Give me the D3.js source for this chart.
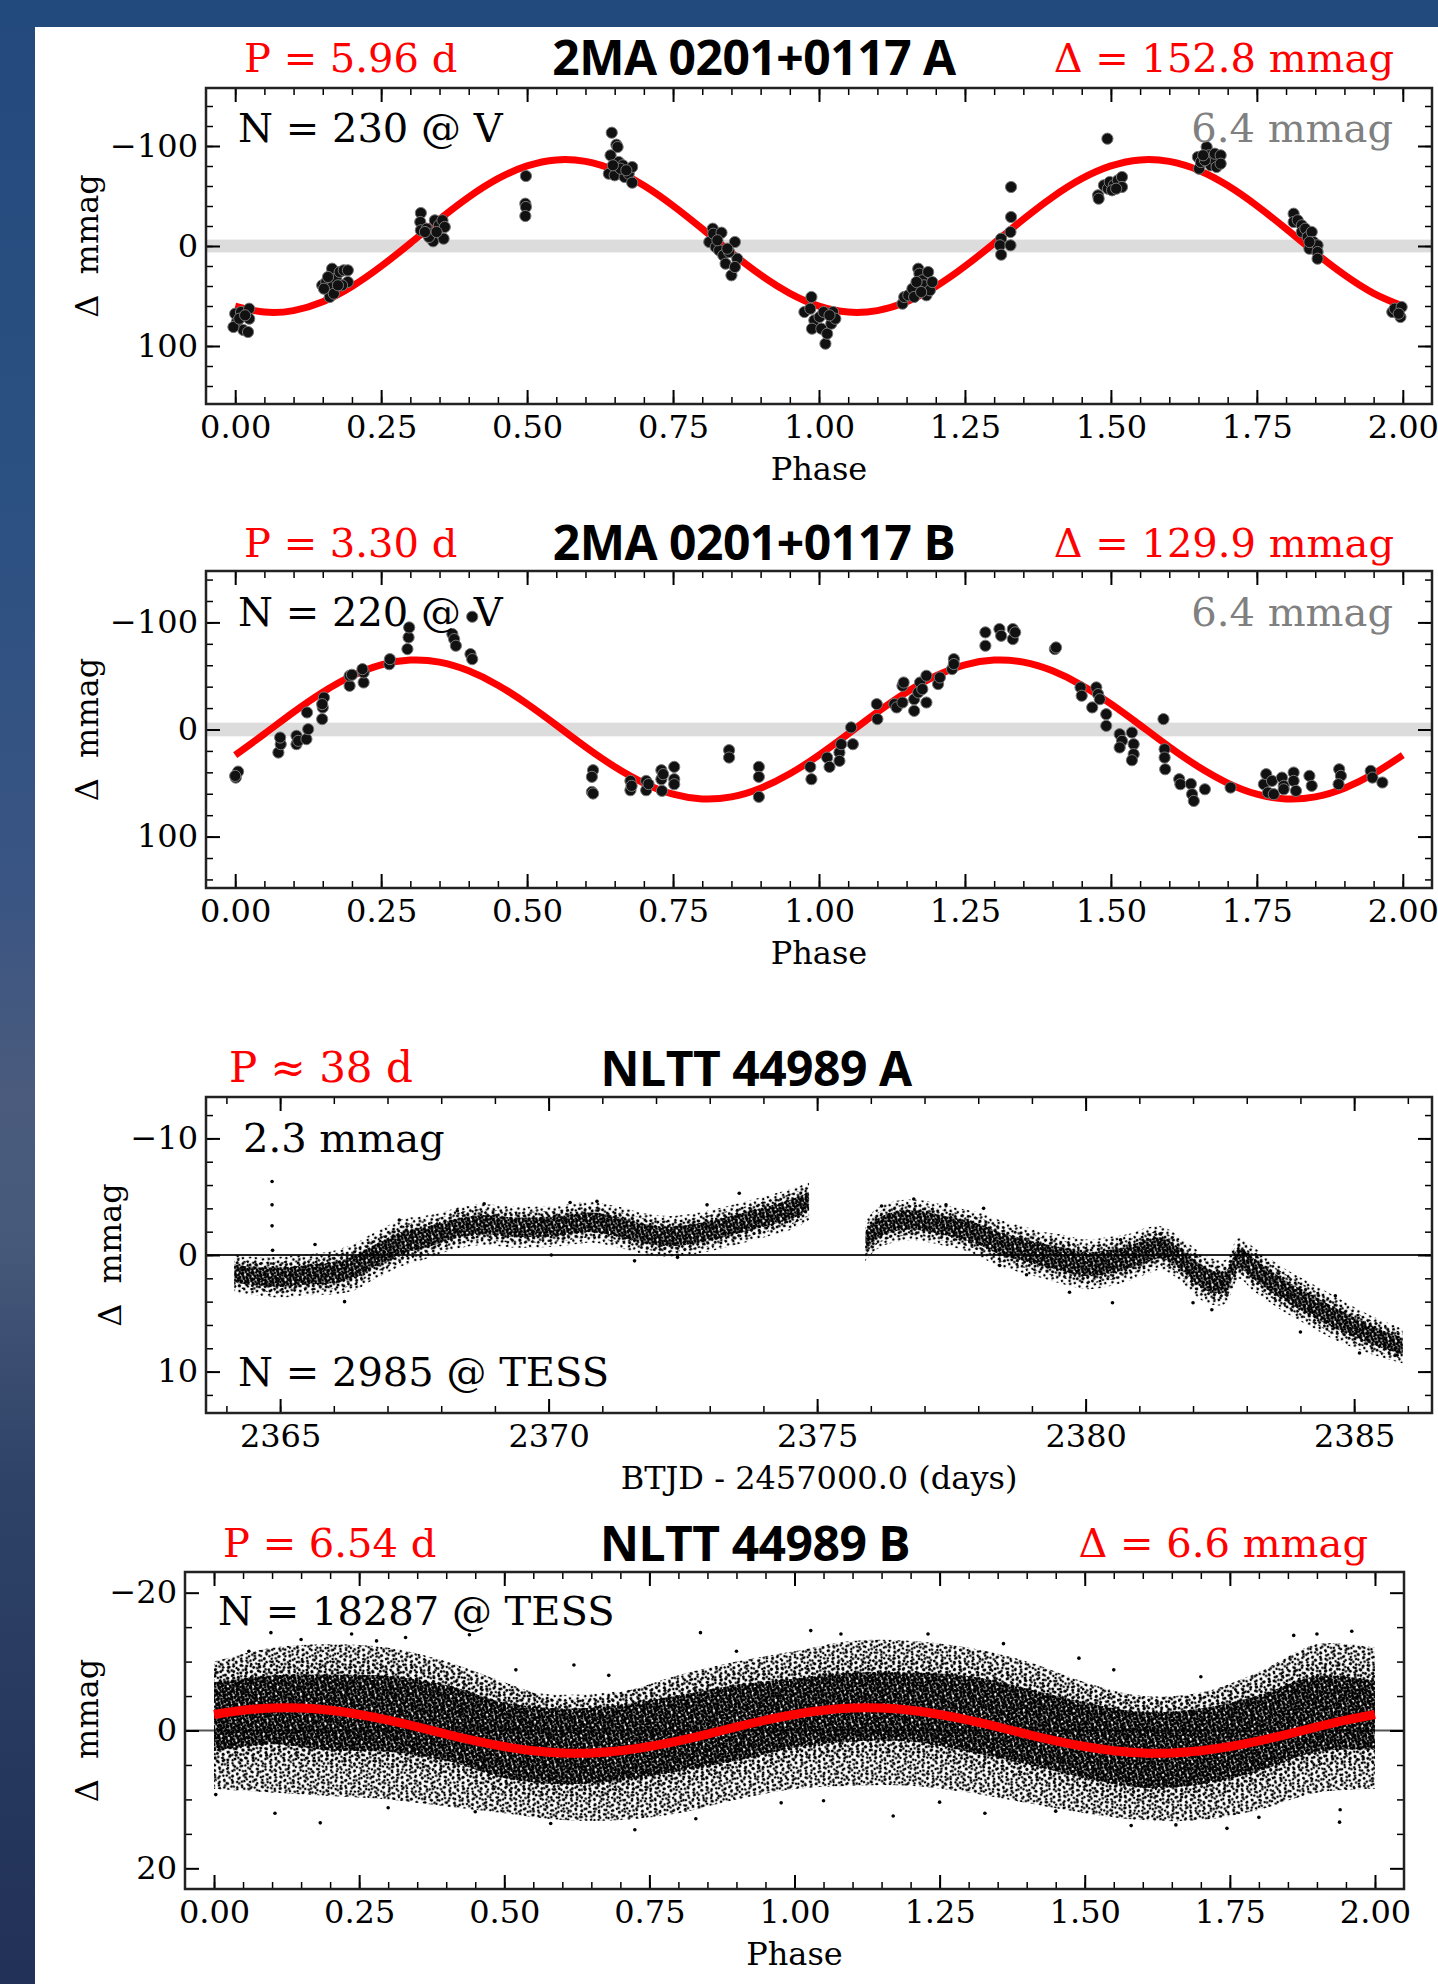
<!DOCTYPE html>
<html><head><meta charset="utf-8">
<script src="https://cdn.jsdelivr.net/npm/d3@7"></script>
<style>html,body{margin:0;padding:0;background:#fff;}svg{display:block;}</style>
</head><body>
<svg id="c" width="1438" height="1984"></svg>
<script>
// ---------------- DATA ----------------
const fitPhase = [0,0.05,0.1,0.15,0.2,0.25,0.3,0.35,0.4,0.45,0.5,0.55,0.6,0.65,0.7,0.75,0.8,0.85,0.9,0.95,
                  1,1.05,1.1,1.15,1.2,1.25,1.3,1.35,1.4,1.45,1.5,1.55,1.6,1.65,1.7,1.75,1.8,1.85,1.9,1.95,2];
const phaseMajor = [0,0.25,0.5,0.75,1,1.25,1.5,1.75,2];
const btjdMajor = [2365,2370,2375,2380,2385];

// Panel 1: 2MA 0201+0117 A
const p1Points = [
[0.000,67.7],[0.003,76],[0.010,66],[0.014,84],[0.022,86],[0.024,62.7],[0.024,72.7],[-0.003,81],[0.007,72.7],[0.017,69.3],
[0.149,39.3],[0.156,36],[0.166,22.7],[0.166,41],[0.173,32.7],[0.179,26],[0.186,24.3],[0.193,24.3],[0.193,36],[0.162,51],[0.169,47.7],[0.183,39.3],[0.176,39.3],[0.159,31],[0.152,42.7],
[0.318,-33],[0.317,-24],[0.318,-15.7],[0.328,-17.3],[0.335,-12.3],[0.339,-4.7],[0.342,-25.7],[0.349,-20.7],[0.355,-25.7],[0.359,-19],[0.357,-7.3],[0.332,-9],[0.325,-14],[0.345,-14],
[0.498,-70],[0.497,-42.3],[0.498,-39],[0.497,-30],
[0.645,-113.3],[0.653,-101.3],[0.655,-99],[0.643,-90.7],[0.640,-72.3],[0.650,-70.7],[0.657,-84],[0.664,-80.7],[0.667,-69],[0.674,-72.3],[0.680,-79],[0.680,-63.3],[0.660,-77.3],[0.647,-80.7],[0.670,-75.7],
[0.818,-17.3],[0.812,-4],[0.819,-12.3],[0.833,-13.3],[0.823,1],[0.829,4.3],[0.836,9.3],[0.840,17.7],[0.850,29.3],[0.856,-4],[0.860,12.7],[0.856,21],[0.846,6],[0.826,-5.7],[0.843,2.7],
[0.975,66],[0.987,51],[0.985,62.7],[0.992,74.3],[0.988,82.7],[1.001,71],[1.004,82.7],[1.011,97.7],[1.014,87.7],[1.021,77.7],[1.024,66],[1.028,72.7],[1.008,66],[1.018,69.3],
[1.143,57.7],[1.146,51],[1.153,49.3],[1.160,42.7],[1.163,51],[1.170,22.7],[1.172,27.7],[1.177,34.3],[1.180,39.3],[1.184,49.3],[1.187,26],[1.190,44.3],[1.194,36],[1.167,36],[1.175,46],
[1.312,-7.3],[1.310,-0.7],[1.312,8.7],[1.328,-14],[1.328,-0.7],[1.329,-29],[1.329,-59],
[1.494,-107.3],[1.478,-50.7],[1.479,-47.3],[1.488,-60.7],[1.495,-57.3],[1.498,-64],[1.505,-60.7],[1.512,-65.7],[1.519,-69],[1.519,-59],[1.502,-55.7],[1.509,-57.3],
[1.649,-89],[1.651,-77.3],[1.654,-84],[1.664,-99],[1.668,-90.7],[1.671,-80.7],[1.674,-87.3],[1.678,-92.3],[1.681,-79],[1.688,-90.7],[1.688,-82.3],[1.661,-85.7],[1.658,-90.7],
[1.813,-32.3],[1.813,-24],[1.820,-25.7],[1.827,-20.7],[1.827,-14],[1.833,-17.3],[1.837,-9],[1.840,2.7],[1.844,-14],[1.847,-4],[1.854,-0.7],[1.854,6],[1.854,12.7],[1.840,-4],
[1.982,66],[1.986,62.7],[1.996,71],[1.998,61],[1.993,67.7]
];
const p1Fit = [60.1,66.1,64.6,55.8,40.5,20.3,-2.8,-26.7,-48.9,-67.3,-80.1,-86.1,-84.6,-75.8,-60.5,-40.3,-17.2,6.7,28.9,47.3,
               60.1,66.1,64.6,55.8,40.5,20.3,-2.8,-26.7,-48.9,-67.3,-80.1,-86.1,-84.6,-75.8,-60.5,-40.3,-17.2,6.7,28.9,47.3,60.1];

// Panel 2: 2MA 0201+0117 B
const p2Points = [
[0.001,44.9],[0.005,39.3],[0.000,43.3],
[0.074,21.5],[0.078,13.7],[0.077,7.5],
[0.105,5.9],[0.105,13.7],[0.108,10.6],
[0.122,9.0],[0.125,-0.3],[0.123,-15.9],
[0.149,-9.7],[0.150,-20.6],[0.152,-29.9],[0.149,-23.7],
[0.196,-40.8],[0.196,-50.2],[0.200,-51.1],[0.220,-43.9],[0.220,-53.3],[0.218,-56.4],
[0.264,-61.0],[0.265,-65.7],
[0.295,-75.1],[0.297,-86.0],[0.298,-95.3],
[0.406,-105.3],
[0.372,-89.1],[0.375,-84.4],[0.378,-78.2],
[0.403,-70.4],[0.406,-65.7],
[0.613,38.0],[0.611,44.2],[0.611,58.3],[0.613,59.8],
[0.677,48.0],[0.677,56.7],[0.679,52.6],
[0.704,48.0],[0.704,56.7],[0.708,51.0],
[0.730,38.0],[0.730,46.4],[0.731,57.3],[0.733,41.7],
[0.752,34.9],[0.752,46.4],[0.752,51.1],
[0.846,19.3],[0.846,26.2],
[0.897,34.9],[0.897,44.2],[0.897,62.9],
[0.985,34.9],[0.987,46.4],
[1.014,26.2],[1.018,34.9],[1.035,21.5],[1.035,29.3],[1.038,13.7],[1.055,-1.9],[1.058,13.7],
[1.099,-23.7],[1.100,-9.7],[1.129,-23.7],[1.133,-20.6],[1.143,-25.2],[1.143,-40.8],[1.145,-43.9],[1.163,-28.3],[1.163,-17.4],[1.170,-34.6],[1.173,-43.9],[1.177,-37.7],[1.184,-50.2],[1.184,-25.2],[1.204,-42.4],[1.207,-48.6],[1.228,-56.4],[1.231,-65.7],[1.231,-61.1],
[1.285,-90.7],[1.285,-78.2],[1.309,-93.8],[1.312,-87.5],[1.332,-93.8],[1.332,-84.4],[1.336,-90.7],
[1.404,-75.1],[1.406,-76.6],
[1.448,-39.3],[1.450,-31.5],[1.475,-39.3],[1.478,-33.0],[1.468,-20.6],[1.481,-28.3],[1.492,-14.3],[1.492,-3.4],[1.515,4.4],[1.519,10.6],[1.515,16.8],[1.536,2.8],[1.539,13.7],[1.539,23.0],[1.536,28.7],
[1.590,-9.7],[1.592,18.4],[1.592,26.2],[1.593,37.1],
[1.617,46.4],[1.619,51.1],[1.637,50.8],[1.639,60.4],[1.642,66.7],[1.661,55.8],
[1.705,54.2],
[1.762,51.1],[1.766,41.7],[1.769,58.9],[1.779,60.4],[1.776,48.0],[1.793,44.9],[1.796,52.6],[1.796,55.8],[1.813,40.2],[1.813,48.0],[1.817,57.3],[1.840,43.3],[1.844,52.6],
[1.891,37.1],[1.894,43.3],[1.890,51.1],
[1.945,38.6],[1.948,44.9],[1.965,49.5]
];
const p2Fit = [23.9,4.1,-16.2,-34.8,-50.0,-60.4,-64.8,-62.9,-54.8,-41.4,-23.9,-4.1,16.2,34.8,50.0,60.4,64.8,62.9,54.8,41.4,
               23.9,4.1,-16.2,-34.8,-50.0,-60.4,-64.8,-62.9,-54.8,-41.4,-23.9,-4.1,16.2,34.8,50.0,60.4,64.8,62.9,54.8,41.4,23.9];

// Panel 3: NLTT 44989 A (TESS light curve, read as band centre / spread)
const p3aTime   = [2364.15,2364.5,2365.0,2365.5,2366.0,2366.4,2366.7,2367.0,2367.3,2367.7,2368.0,2368.4,2368.8,2369.3,2369.8,2370.2,2370.8,2371.3,2371.8,2372.3,2372.8,2373.3,2373.8,2374.2,2374.5,2374.85];
const p3aCenter = [1.6,1.8,1.9,1.7,1.5,1.0,0.2,-0.5,-1.1,-1.5,-1.9,-2.4,-2.6,-2.4,-2.4,-2.5,-2.8,-2.4,-1.8,-1.6,-1.9,-2.4,-3.0,-3.5,-3.9,-4.6];
const p3aSpread = [1.3,1.3,1.4,1.4,1.5,1.6,1.6,1.6,1.6,1.5,1.4,1.4,1.4,1.4,1.4,1.4,1.4,1.4,1.4,1.4,1.4,1.4,1.4,1.4,1.4,1.3];
const p3bTime   = [2375.9,2376.1,2376.4,2376.7,2377.0,2377.3,2377.7,2378.0,2378.4,2378.8,2379.2,2379.6,2380.0,2380.4,2380.8,2381.1,2381.4,2381.7,2382.0,2382.3,2382.6,2382.85,2383.1,2383.4,2383.8,2384.2,2384.6,2385.0,2385.4,2385.9];
const p3bCenter = [-1.2,-2.2,-2.8,-3.0,-2.9,-2.6,-2.2,-1.8,-1.0,-0.5,0.0,0.4,0.8,0.6,0.2,-0.3,-0.6,0.1,1.3,2.2,2.3,0.3,1.1,2.1,3.3,4.3,5.3,6.2,7.0,7.8];
const p3bSpread = [1.4,1.4,1.4,1.4,1.4,1.4,1.4,1.5,1.6,1.6,1.6,1.7,1.7,1.7,1.6,1.6,1.5,1.5,1.6,1.6,1.5,1.4,1.5,1.5,1.5,1.5,1.5,1.4,1.3,1.2];
const p3Outliers = [[2364.85,-6.3],[2364.85,-4.3],[2364.85,-2.5],[2364.86,-0.4],[2365.65,-0.9],[2366.2,4.0],[2367.22,-3.0],
  [2368.3,-3.8],[2368.8,-4.4],[2370.4,-4.5],[2370.9,-4.6],[2370.05,0.0],[2371.6,0.5],[2372.4,0.2],[2372.95,-4.3],[2373.55,-5.3],
  [2376.2,-4.2],[2376.8,-4.8],[2377.4,-4.3],[2378.1,-4.0],[2378.4,0.9],[2378.9,1.7],[2379.7,3.2],[2380.5,4.1],[2380.65,-1.3],
  [2381.4,-1.8],[2382.0,4.1],[2382.35,4.7],[2382.95,-0.2],[2384.0,6.6],[2384.65,3.5],[2385.1,8.4],[2385.8,8.6]];

// Panel 4: NLTT 44989 B (phase-folded TESS, read as envelope)
const p4Phase  = [0,0.1,0.2,0.3,0.4,0.5,0.6,0.7,0.8,0.9,1.0,1.1,1.2,1.3,1.4,1.5,1.6,1.7,1.8,1.9,2.0];
const p4Center = [-2.0,-3.0,-2.6,-2.4,-1.1,1.4,2.3,1.8,0.4,-1.1,-2.5,-3.4,-3.4,-2.4,-0.6,1.4,2.8,2.3,0.4,-2.4,-2.2];
const p4Top    = [-10,-12,-12.5,-12,-10,-7,-4.5,-5.5,-8,-10,-11.5,-13,-13,-12,-10,-7,-5,-5.5,-8.5,-12.5,-12];
const p4Bottom = [8.5,9,9.5,10,11,12,13,13,12,10,8.5,8,8,9,10.5,12,13,13,11.5,9,8.5];
const p4Mid    = [7,7,7.5,7.5,7.5,7.5,7.5,7.5,7.5,7.5,7,7,7,7.5,7.5,7.5,7.5,7.5,7.5,7.5,7];
const p4Core   = [5,5,5.5,5.5,5.5,5.5,5.5,5.5,5.5,5.5,5,5,5,5.5,5.5,5.5,5.5,5.5,5.5,5.5,5];
const p4Outliers = [[0.098,-14.2],[0.838,-14.2],[1.028,-14.5],[0.105,12.0],[0.183,13.4],[0.725,14.4],[1.939,13.3],[1.745,14.2],[1.657,13.7],[0.237,-14.0],[0.440,-13.9],[1.960,-14.4],[1.170,12.4],[1.328,12.0],[0.977,10.5],[0.003,9.3],[1.94,11.5],[0.62,-9.5],[1.23,-14.0],[1.86,-13.8],[0.33,-13.5],[0.06,-11.5],[1.49,-10.5],
  [0.15,-13.2],[0.28,-13.0],[0.52,-8.8],[0.68,-8.0],[0.90,-11.5],[1.08,-14.0],[1.36,-12.6],[1.55,-8.8],[1.70,-7.8],[1.90,-14.0],
  [0.45,11.8],[0.58,13.5],[0.83,12.8],[1.05,10.2],[1.45,11.7],[1.58,13.8],[1.80,12.6],[0.30,11.2],[1.25,10.4]];
const p4Fit = [-2.33,-2.94,-3.26,-3.26,-2.94,-2.33,-1.50,-0.52,0.52,1.50,2.33,2.94,3.26,3.26,2.94,2.33,1.50,0.52,-0.52,-1.50,
               -2.33,-2.94,-3.26,-3.26,-2.94,-2.33,-1.50,-0.52,0.52,1.50,2.33,2.94,3.26,3.26,2.94,2.33,1.50,0.52,-0.52,-1.50,-2.33];

// ---------------- DRAW ----------------
const SERIF = "DejaVu Serif";
const SANS = "Open Sans";
const svg = d3.select('#c');
const defs = svg.append('defs');

// background
const grad = defs.append('linearGradient').attr('id','bg').attr('x1',0).attr('y1',0).attr('x2',0).attr('y2',1);
[[0,'#24497c'],[0.25,'#2b5082'],[0.45,'#3a5583'],[0.55,'#4a5b7d'],[0.62,'#475a7b'],[0.75,'#2e4268'],[0.9,'#26375d'],[1,'#213157']]
  .forEach(s=>grad.append('stop').attr('offset',s[0]).attr('stop-color',s[1]));
svg.append('rect').attr('width',1438).attr('height',1984).attr('fill','url(#bg)');
svg.append('rect').attr('width',1438).attr('height',27).attr('fill','#234a7c');
svg.append('rect').attr('x',35).attr('y',27).attr('width',1403).attr('height',1957).attr('fill','#fff');

// speckle patterns (texture for dense point clouds)
function pattern(id,w,h,dots,r,rot){
  const p = defs.append('pattern').attr('id',id).attr('patternUnits','userSpaceOnUse')
    .attr('width',w).attr('height',h).attr('patternTransform',`rotate(${rot})`);
  dots.forEach(d=>p.append('circle').attr('cx',d[0]).attr('cy',d[1]).attr('r',r).attr('fill','#000'));
}
pattern('dense',8,7,[[1,1],[5,0.8],[3,3.2],[7,3.6],[0.8,5.2],[4.6,6],[2.4,6.6],[6.4,1.9]],1.4,17);
pattern('sparse',14,12,[[2,2],[8,1],[12,5],[5,7],[10,10],[1,10],[7.5,4]],1.3,-23);
pattern('sparse2',11,9,[[1.5,1.5],[6,3],[9.5,7],[3,7.5]],1.3,31);

function panel(o){
  const g = svg.append('g');
  const x = d3.scaleLinear().domain(o.xDomain).range([o.left,o.right]);
  const y = d3.scaleLinear().domain(o.yDomain).range([o.top,o.bottom]);
  const cid = 'clip'+o.id;
  defs.append('clipPath').attr('id',cid).append('rect')
    .attr('x',o.left).attr('y',o.top).attr('width',o.right-o.left).attr('height',o.bottom-o.top);
  const plot = g.append('g').attr('clip-path',`url(#${cid})`);
  o.draw(plot,x,y);

  const style = (sel,w)=>{ sel.select('.domain').remove();
    sel.attr('font-family',SERIF).attr('font-size',32);
    sel.selectAll('line').attr('stroke','#000').attr('stroke-width',w);
    sel.selectAll('text').attr('fill','#000'); };
  g.append('g').attr('transform',`translate(0,${o.bottom})`)
    .call(d3.axisBottom(x).tickValues(o.xMinor).tickSize(-7).tickFormat('')).call(s=>style(s,1.5));
  g.append('g').attr('transform',`translate(0,${o.bottom})`)
    .call(d3.axisBottom(x).tickValues(o.xMajor).tickSize(-14).tickPadding(11).tickFormat(o.xFormat)).call(s=>style(s,2));
  g.append('g').attr('transform',`translate(0,${o.top})`)
    .call(d3.axisTop(x).tickValues(o.xMinor).tickSize(-7).tickFormat('')).call(s=>style(s,1.5));
  g.append('g').attr('transform',`translate(0,${o.top})`)
    .call(d3.axisTop(x).tickValues(o.xMajor).tickSize(-14).tickFormat('')).call(s=>style(s,2));
  g.append('g').attr('transform',`translate(${o.left},0)`)
    .call(d3.axisLeft(y).tickValues(o.yMinor).tickSize(-7).tickFormat('')).call(s=>style(s,1.5));
  g.append('g').attr('transform',`translate(${o.left},0)`)
    .call(d3.axisLeft(y).tickValues(o.yMajor).tickSize(-14).tickPadding(8).tickFormat(d3.format('d'))).call(s=>style(s,2));
  g.append('g').attr('transform',`translate(${o.right},0)`)
    .call(d3.axisRight(y).tickValues(o.yMinor).tickSize(-7).tickFormat('')).call(s=>style(s,1.5));
  g.append('g').attr('transform',`translate(${o.right},0)`)
    .call(d3.axisRight(y).tickValues(o.yMajor).tickSize(-14).tickFormat('')).call(s=>style(s,2));
  g.append('rect').attr('x',o.left).attr('y',o.top).attr('width',o.right-o.left).attr('height',o.bottom-o.top)
    .attr('fill','none').attr('stroke','#222').attr('stroke-width',2.5);

  const txt = (s,xx,yy,anchor,size,fill,fam,weight)=>g.append('text').attr('x',xx).attr('y',yy)
    .attr('text-anchor',anchor).attr('font-size',size).attr('fill',fill).attr('font-family',fam)
    .attr('font-weight',weight||400).text(s);
  txt(o.xLabel,(o.left+o.right)/2,o.bottom+76,'middle',32,'#000',SERIF);
  g.append('text').attr('transform',`translate(${o.yLabelX},${(o.top+o.bottom)/2}) rotate(-90)`)
    .attr('text-anchor','middle').attr('font-size',32).attr('font-family',SERIF).attr('fill','#000')
    .style('white-space','pre').text('Δ  mmag');
  txt(o.title,o.titleX,o.titleY,'middle',48,'#000',SANS,700).attr('letter-spacing',-0.5);
  if(o.pText) txt(o.pText,o.pX,o.pY,'start',o.pSize||40,'#ff0000',SERIF);
  if(o.dText) txt(o.dText,o.dX,o.pY,'end',40,'#ff0000',SERIF);
  (o.notes||[]).forEach(n=>txt(n.t,n.x,n.y,n.a,40,n.c,SERIF));
  return {x,y};
}

const phaseMinor = d3.range(0,2.0001,0.05);
const fitLine = (x,y,vals)=>d3.line().x((d,i)=>x(fitPhase[i])).y(d=>y(d)).curve(d3.curveNatural)(vals);

function drawPhased(points,fit,band){
  return (plot,x,y)=>{
    plot.append('rect').attr('x',x.range()[0]).attr('width',x.range()[1]-x.range()[0])
      .attr('y',y(-band)).attr('height',y(band)-y(-band)).attr('fill','#dcdcdc');
    plot.append('path').attr('d',fitLine(x,y,fit)).attr('fill','none').attr('stroke','#ff0000').attr('stroke-width',7);
    plot.selectAll('circle.pt').data(points).join('circle').attr('class','pt')
      .attr('cx',d=>x(d[0])).attr('cy',d=>y(d[1])).attr('r',5.6)
      .attr('fill','#111').attr('stroke','#777').attr('stroke-width',1);
  };
}

panel({id:1,left:206,right:1432,top:88,bottom:404,xDomain:[-0.05,2.05],yDomain:[-158,158],
  xMajor:phaseMajor,xMinor:phaseMinor,yMajor:[-100,0,100],yMinor:d3.range(-140,141,20),
  xFormat:d3.format('.2f'),xLabel:'Phase',yLabelX:98,
  title:'2MA 0201+0117 A',titleX:754,titleY:75,pText:'P = 5.96 d',pX:244,pY:72,dText:'Δ = 152.8 mmag',dX:1394,
  notes:[{t:'N = 230 @ V',x:238,y:142,a:'start',c:'#000'},{t:'6.4 mmag',x:1393,y:142,a:'end',c:'#808080'}],
  draw:drawPhased(p1Points,p1Fit,6.4)});

panel({id:2,left:206,right:1432,top:571,bottom:888,xDomain:[-0.05,2.05],yDomain:[-148,148],
  xMajor:phaseMajor,xMinor:phaseMinor,yMajor:[-100,0,100],yMinor:d3.range(-140,141,20),
  xFormat:d3.format('.2f'),xLabel:'Phase',yLabelX:98,
  title:'2MA 0201+0117 B',titleX:754,titleY:560,pText:'P = 3.30 d',pX:244,pY:557,dText:'Δ = 129.9 mmag',dX:1394,
  notes:[{t:'N = 220 @ V',x:238,y:626,a:'start',c:'#000'},{t:'6.4 mmag',x:1393,y:626,a:'end',c:'#808080'}],
  draw:drawPhased(p2Points,p2Fit,6.4)});

panel({id:3,left:206,right:1432,top:1097,bottom:1413,xDomain:[2363.62,2386.45],yDomain:[-13.55,13.55],
  xMajor:btjdMajor,xMinor:d3.range(2364,2387,1),yMajor:[-10,0,10],yMinor:d3.range(-12,13,2),
  xFormat:d3.format('d'),xLabel:'BTJD - 2457000.0 (days)',yLabelX:121,
  title:'NLTT 44989 A',titleX:756,titleY:1086,pText:'P ≈ 38 d',pX:229,pY:1082,pSize:42,
  notes:[{t:'2.3 mmag',x:243,y:1152,a:'start',c:'#000'},{t:'N = 2985 @ TESS',x:238,y:1386,a:'start',c:'#000'}],
  draw:(plot,x,y)=>{
    plot.append('line').attr('x1',x.range()[0]).attr('x2',x.range()[1]).attr('y1',y(0)).attr('y2',y(0))
      .attr('stroke','#222').attr('stroke-width',2);
    [[p3aTime,p3aCenter,p3aSpread],[p3bTime,p3bCenter,p3bSpread]].forEach(([t,c,s])=>{
      const idx = t.map((d,i)=>i);
      const band = k=>d3.area().x(i=>x(t[i])).y0(i=>y(c[i]-s[i]*k)).y1(i=>y(c[i]+s[i]*k)).curve(d3.curveCatmullRom)(idx);
      plot.append('path').attr('d',band(1.25)).attr('fill','url(#sparse)');
      plot.append('path').attr('d',band(0.95)).attr('fill','url(#sparse2)');
      plot.append('path').attr('d',band(0.95)).attr('fill','url(#sparse)');
      plot.append('path').attr('d',band(0.6)).attr('fill','url(#dense)');
    });
    plot.selectAll('circle.o').data(p3Outliers).join('circle').attr('class','o')
      .attr('cx',d=>x(d[0])).attr('cy',d=>y(d[1])).attr('r',1.8).attr('fill','#000');
  }});

panel({id:4,left:185,right:1404,top:1572,bottom:1889,xDomain:[-0.05,2.05],yDomain:[-23,23],
  xMajor:phaseMajor,xMinor:phaseMinor,yMajor:[-20,0,20],yMinor:[-15,-10,-5,5,10,15],
  xFormat:d3.format('.2f'),xLabel:'Phase',yLabelX:98,
  title:'NLTT 44989 B',titleX:755,titleY:1561,pText:'P = 6.54 d',pX:223,pY:1557,dText:'Δ = 6.6 mmag',dX:1368,
  notes:[{t:'N = 18287 @ TESS',x:218,y:1625,a:'start',c:'#000'}],
  draw:(plot,x,y)=>{
    plot.append('line').attr('x1',x.range()[0]).attr('x2',x.range()[1]).attr('y1',y(0)).attr('y2',y(0))
      .attr('stroke','#555').attr('stroke-width',2);
    const idx = p4Phase.map((d,i)=>i);
    const outer = d3.area().x(i=>x(p4Phase[i])).y0(i=>y(p4Top[i])).y1(i=>y(p4Bottom[i])).curve(d3.curveCatmullRom);
    const band = arr=>d3.area().x(i=>x(p4Phase[i])).y0(i=>y(p4Center[i]-arr[i])).y1(i=>y(p4Center[i]+arr[i])).curve(d3.curveCatmullRom)(idx);
    plot.append('path').attr('d',outer(idx)).attr('fill','url(#sparse)');
    plot.append('path').attr('d',outer(idx)).attr('fill','url(#sparse2)');
    plot.append('path').attr('d',band(p4Mid)).attr('fill','url(#sparse)');
    plot.append('path').attr('d',band(p4Core)).attr('fill','url(#dense)');
    plot.append('path').attr('d',band(p4Core)).attr('fill','url(#sparse2)');
    plot.selectAll('circle.o').data(p4Outliers).join('circle').attr('class','o')
      .attr('cx',d=>x(d[0])).attr('cy',d=>y(d[1])).attr('r',1.8).attr('fill','#000');
    plot.append('path').attr('d',fitLine(x,y,p4Fit)).attr('fill','none').attr('stroke','#ff0000').attr('stroke-width',9);
  }});
</script>
</body></html>
